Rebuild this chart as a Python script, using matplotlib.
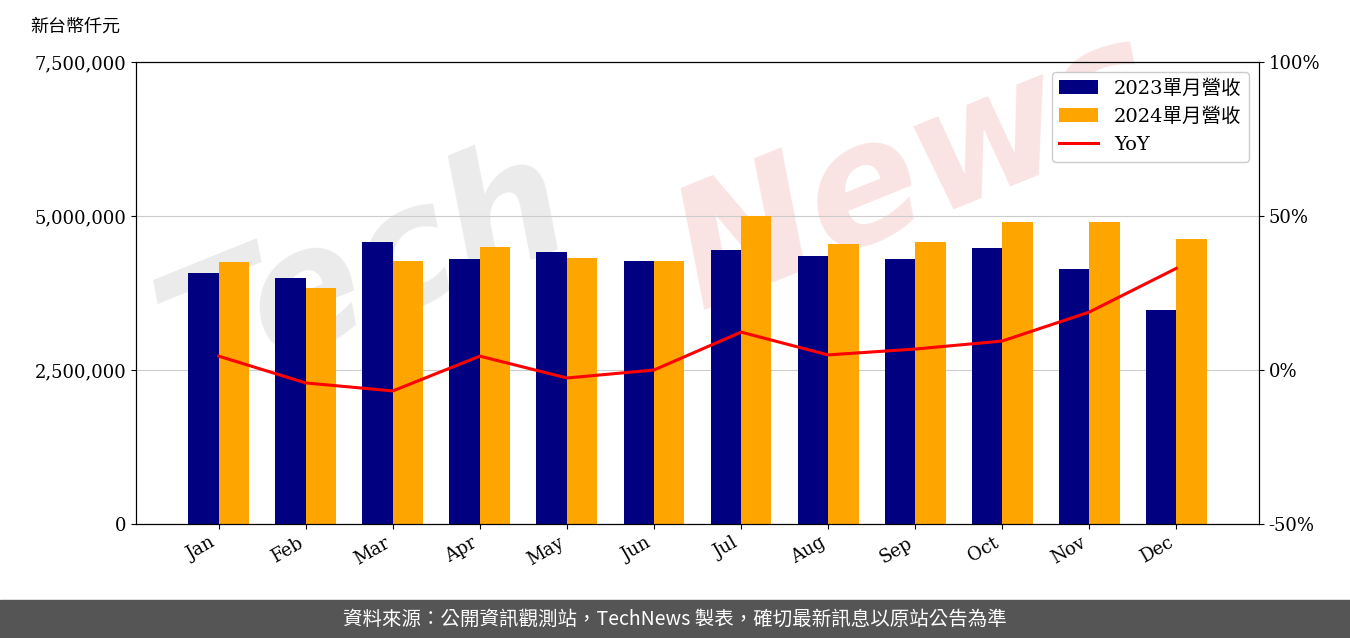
import matplotlib
matplotlib.use("Agg")
import matplotlib.pyplot as plt
import numpy as np

months = ["Jan","Feb","Mar","Apr","May","Jun","Jul","Aug","Sep","Oct","Nov","Dec"]
rev2023 = [4070000,3990000,4580000,4300000,4420000,4270000,4450000,4350000,4300000,4480000,4140000,3470000]
rev2024 = [4250000,3830000,4270000,4500000,4320000,4270000,5000000,4550000,4580000,4900000,4900000,4630000]
yoy = [4.5,-4.2,-6.8,4.5,-2.6,0.0,12.3,4.9,6.8,9.4,18.8,33.0]

cjk = ['Noto Sans CJK TC','DejaVu Sans']
plt.rcParams['font.family'] = ['DejaVu Serif','Noto Sans CJK TC']

fig = plt.figure(figsize=(13.5,6.38), dpi=100)
fig.text(0.27, 0.57, 'Tech', fontsize=120, color='#d8d8d8', alpha=0.5, rotation=22,
         ha='center', va='center', family='DejaVu Sans', fontweight='bold', style='italic', zorder=-5)
fig.text(0.68, 0.73, 'News', fontsize=120, color='#f5c8c8', alpha=0.5, rotation=22,
         ha='center', va='center', family='DejaVu Sans', fontweight='bold', style='italic', zorder=-5)
ax = fig.add_axes([136/1350, 1-524/638, (1259-136)/1350, (524-62)/638])
ax.patch.set_alpha(0)
ax.set_zorder(1)
x = np.arange(len(months))
w = 0.35
ax.bar(x-w/2, rev2023, w, color='#000080', label='2023單月營收', zorder=2)
ax.bar(x+w/2, rev2024, w, color='#FFA500', label='2024單月營收', zorder=2)
ax.set_ylim(0,7500000)
ax.set_yticks([0,2500000,5000000,7500000])
ax.set_yticklabels(['0','2,500,000','5,000,000','7,500,000'], fontsize=13)
ax.grid(axis='y', color='#cccccc', zorder=0)
ax.set_xlim(-0.95, 11.95)
ax.set_xticks(x)
ax.set_xticklabels(months, rotation=30, ha='right', fontsize=13)
ax2 = ax.twinx()
ax2.set_zorder(2)
ax2.plot(x, yoy, color='red', lw=2.2, label='YoY')
ax2.set_ylim(-50,100)
ax2.set_yticks([-50,0,50,100])
ax2.set_yticklabels(['-50%','0%','50%','100%'], fontsize=13)
h1,l1 = ax.get_legend_handles_labels()
h2,l2 = ax2.get_legend_handles_labels()
ax2.legend(h1+h2, l1+l2, loc='upper right', framealpha=1,
           prop={'family':['DejaVu Serif','Noto Sans CJK TC'],'size':14})
fig.text(30/1350, 1-27/638, '新台幣仟元', fontsize=13, family=cjk, va='center')
fig.patches.append(plt.Rectangle((0,0),1,38/638, transform=fig.transFigure, color='#555555'))
fig.text(0.5, 19/638, '資料來源：公開資訊觀測站，TechNews 製表，確切最新訊息以原站公告為準',
         color='white', fontsize=14, family=cjk, ha='center', va='center')
fig.savefig('out.png')
